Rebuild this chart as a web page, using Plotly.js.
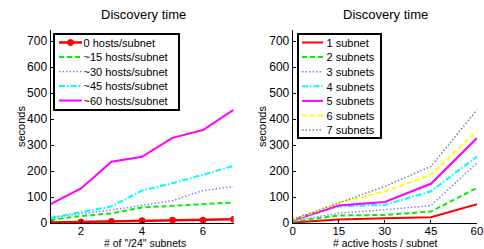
<!DOCTYPE html>
<html>
<head>
<meta charset="utf-8">
<script src="https://cdn.plot.ly/plotly-3.0.1.min.js"></script>
<style>html,body{margin:0;padding:0;background:#fff;}#chart{width:484px;height:249px;}</style>
</head>
<body>
<div id="chart"></div>
<script>
// Left chart: discovery time vs number of /24 subnets
const subnetsX = [1, 2, 3, 4, 5, 6, 7];
const hosts0  = [2, 4, 6, 9, 11, 11, 14];
const hosts15 = [12, 27, 37, 60, 66, 73, 79];
const hosts30 = [19, 36, 50, 69, 86, 125, 140];
const hosts45 = [20, 43, 64, 125, 153, 186, 220];
const hosts60 = [73, 133, 236, 255, 328, 358, 436];
const leftNames = ['0 hosts/subnet', '~15 hosts/subnet', '~30 hosts/subnet', '~45 hosts/subnet', '~60 hosts/subnet'];

// Right chart: discovery time vs active hosts per subnet
const hostsX = [0, 15, 30, 45, 60];
const sub1 = [2, 13, 18, 22, 72];
const sub2 = [5, 29, 31, 44, 135];
const sub3 = [8, 38, 51, 67, 231];
const sub4 = [10, 64, 70, 122, 256];
const sub5 = [10, 67, 81, 151, 327];
const sub6 = [12, 77, 122, 186, 355];
const sub7 = [14, 79, 141, 218, 436];
const rightNames = ['1 subnet', '2 subnets', '3 subnets', '4 subnets', '5 subnets', '6 subnets', '7 subnets'];

const yTicks = [0, 100, 200, 300, 400, 500, 600, 700];
const leftXTicks = [2, 4, 6];
const rightXTicks = [0, 15, 30, 45, 60];

const titleText = 'Discovery time';
const leftXLabel = '# of "/24" subnets';
const rightXLabel = '# active hosts / subnet';
const yLabel = 'seconds';

const FONT = 'Liberation Sans, Arial, Helvetica, sans-serif';

const styles = [
  {color: '#ff0000', dash: 'solid', width: 2},
  {color: '#00f000', dash: '5px,3px', width: 2},
  {color: '#8080ff', dash: '1.5px,2px', width: 1.5},
  {color: '#00ffff', dash: '6px,2px,1.5px,2px', width: 2},
  {color: '#ff00ff', dash: 'solid', width: 2},
  {color: '#ffff00', dash: '5px,3px', width: 2},
  {color: '#808080', dash: '1.5px,2px', width: 1.5}
];

const leftSeries = [hosts0, hosts15, hosts30, hosts45, hosts60];
const rightSeries = [sub1, sub2, sub3, sub4, sub5, sub6, sub7];

const traces = [];
leftSeries.forEach((ys, i) => {
  const s = styles[i];
  const t = {
    x: subnetsX, y: ys, name: leftNames[i], type: 'scatter',
    mode: i === 0 ? 'lines+markers' : 'lines',
    line: {color: s.color, dash: s.dash, width: i === 0 ? 2.5 : s.width},
    xaxis: 'x', yaxis: 'y', legend: 'legend'
  };
  if (i === 0) t.marker = {symbol: 'circle', size: 6, color: '#ff0000', line: {color: '#ff0000', width: 1}};
  traces.push(t);
});
rightSeries.forEach((ys, i) => {
  const s = styles[i];
  traces.push({
    x: hostsX, y: ys, name: rightNames[i], type: 'scatter', mode: 'lines',
    line: {color: s.color, dash: s.dash, width: s.width},
    xaxis: 'x2', yaxis: 'y2', legend: 'legend2'
  });
});

const W = 484, H = 249;
const yDom = [1 - 223 / H, 1 - 29.5 / H];

function xAxis(dom, range, ticks, anchor) {
  return {
    domain: dom, range: range, anchor: anchor,
    tickvals: ticks, ticks: 'inside', ticklen: 3, tickcolor: '#000',
    ticklabelstandoff: -3,
    showline: true, linecolor: '#000', linewidth: 1, showgrid: false, zeroline: false,
    tickfont: {family: FONT, size: 11.5, color: '#000'}
  };
}
function yAxis(anchor) {
  return {
    domain: yDom, range: [0, 745], anchor: anchor,
    tickvals: yTicks,
    ticks: 'inside', ticklen: 3, tickcolor: '#000',
    showline: true, linecolor: '#000', linewidth: 1, showgrid: false, zeroline: false,
    tickfont: {family: FONT, size: 12, color: '#000'}
  };
}
function ann(text, x, y, size, angle) {
  return {text: text, xref: 'paper', yref: 'paper', x: x / W, y: 1 - y / H,
    xanchor: 'center', yanchor: 'middle', showarrow: false, textangle: angle || 0,
    borderpad: 0, font: {family: FONT, size: size, color: '#000'}};
}

const legendBase = {
  xanchor: 'left', yanchor: 'top',
  bgcolor: '#fff', bordercolor: '#000', borderwidth: 1.5,
  font: {family: FONT, size: 11, color: '#000'}
};

const layout = {
  width: W, height: H,
  margin: {l: 0, r: 0, t: 0, b: 0},
  paper_bgcolor: '#fff', plot_bgcolor: 'rgba(0,0,0,0)',
  font: {family: FONT, size: 11, color: '#000'},
  xaxis: xAxis([50.5 / W, 233.5 / W], [1, 7], leftXTicks, 'y'),
  yaxis: yAxis('x'),
  xaxis2: xAxis([292.7 / W, 477 / W], [0, 60], rightXTicks, 'y2'),
  yaxis2: yAxis('x2'),
  legend: Object.assign({x: 53 / W, y: 1 - 33 / H}, legendBase),
  legend2: Object.assign({x: 297 / W, y: 1 - 33 / H}, legendBase),
  annotations: [
    ann(titleText, 143, 15, 13),
    ann(titleText, 385, 15, 13),
    ann(leftXLabel, 145, 242.8, 10.5),
    ann(rightXLabel, 385, 242.8, 10.5),
    ann(yLabel, 21, 127, 11, -90),
    ann(yLabel, 262, 127, 11, -90)
  ],
  showlegend: true
};

// Make Plotly's legends as compact as the reference (row spacing, sample length).
function compactLegend(gd, cls, cfg) {
  const lg = gd.querySelector('g.' + cls);
  if (!lg) return;
  const bg = lg.querySelector('rect.bg');
  const sb = lg.querySelector('g.scrollbox');
  if (sb) sb.removeAttribute('clip-path');
  const bx = parseFloat(bg.getAttribute('x')) || 0;
  const by = parseFloat(bg.getAttribute('y')) || 0;
  const lgM = lg.getCTM();
  const items = lg.querySelectorAll('g.traces');
  items.forEach((it, i) => {
    const m = it.getCTM();
    const curX = m.e - lgM.e, curY = m.f - lgM.f;
    const tr = /translate\(\s*([-\d.e]+)[ ,]+([-\d.e]+)\s*\)/.exec(it.getAttribute('transform') || '') || [0, 0, 0];
    const tx = parseFloat(tr[1]), ty = parseFloat(tr[2]);
    const wantX = bx - 0.75, wantY = by - 0.75 + cfg.first + i * cfg.step;
    it.setAttribute('transform', 'translate(' + (tx + wantX - curX) + ',' + (ty + wantY - curY) + ')');
    it.querySelectorAll('path.js-line').forEach(p => p.setAttribute('d', 'M' + cfg.l0 + ',0h' + (cfg.l1 - cfg.l0)));
    it.querySelectorAll('.legendpoints path').forEach(p => p.setAttribute('transform', 'translate(' + ((cfg.l0 + cfg.l1) / 2) + ',0)'));
    it.querySelectorAll('text').forEach(t => {
      t.setAttribute('x', cfg.tx);
      t.querySelectorAll('tspan').forEach(s => { if (s.hasAttribute('x')) s.setAttribute('x', cfg.tx); });
    });
    const tog = it.querySelector('rect.legendtoggle');
    if (tog) tog.remove();
  });
  bg.setAttribute('width', cfg.w);
  bg.setAttribute('height', cfg.h);
}

function fixAll(gd) {
  compactLegend(gd, 'legend', {first: 9.5, step: 14.5, l0: 6, l1: 29, tx: 30.5, w: 125, h: 76});
  compactLegend(gd, 'legend2', {first: 9.5, step: 14.6, l0: 5, l1: 26, tx: 29.5, w: 83, h: 104});
}

Plotly.newPlot('chart', traces, layout, {staticPlot: true, displayModeBar: false}).then(gd => {
  fixAll(gd);
  requestAnimationFrame(() => fixAll(gd));
  setTimeout(() => fixAll(gd), 30);
  setTimeout(() => fixAll(gd), 200);
});
</script>
</body>
</html>
